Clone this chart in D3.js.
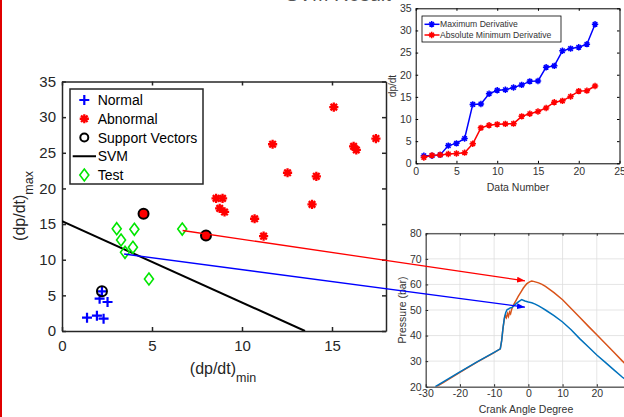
<!DOCTYPE html>
<html>
<head>
<meta charset="utf-8">
<script src="https://cdn.jsdelivr.net/npm/d3@7"></script>
<style>
  body { margin: 0; background: #fff; }
  svg { display: block; font-family: "Liberation Sans", Arial, sans-serif; }
</style>
</head>
<body>
<svg id="fig" width="624" height="417"></svg>
<script>
// ---- main scatter: (dp/dt)min vs (dp/dt)max ----
const normalMin = [1.39, 1.94, 2.31, 2.09, 2.53, 2.22];
const normalMax = [1.87, 2.15, 1.73, 4.53, 4.07, 5.57];
const abnormalMin = [4.53, 8.0, 8.56, 8.92, 8.76, 9.03, 10.7, 11.2, 11.7, 12.53, 14.13, 13.89, 15.1, 16.2, 16.35, 17.44];
const abnormalMax = [16.45, 13.4, 18.6, 18.6, 17.2, 16.7, 15.75, 13.3, 26.2, 22.2, 21.7, 17.77, 31.4, 25.9, 25.4, 27.0];
const supportMin = [2.22, 4.53, 8.0];
const supportMax = [5.57, 16.45, 13.4];
const supportClass = ["normal", "abnormal", "abnormal"];
const testMin = [3.04, 4.02, 3.28, 3.94, 3.5, 4.83, 6.68];
const testMax = [14.35, 14.26, 12.76, 11.74, 11.04, 7.29, 14.3];
const svmMin = [0, 13.5];
const svmMax = [15.4, 0];
const mainXTicks = [0, 5, 10, 15];
const mainYTicks = [0, 5, 10, 15, 20, 25, 30, 35];
const legendLabels = ["Normal", "Abnormal", "Support Vectors", "SVM", "Test"];

// ---- inset: derivative per data number ----
const dataNumber = [1, 2, 3, 4, 5, 6, 7, 8, 9, 10, 11, 12, 13, 14, 15, 16, 17, 18, 19, 20, 21, 22];
const maxDeriv = [1.7, 1.7, 1.9, 4.0, 4.5, 5.6, 13.3, 13.4, 15.7, 16.5, 16.6, 17.1, 17.7, 18.5, 18.6, 21.7, 22.0, 25.4, 25.9, 26.2, 26.9, 31.4];
const minDeriv = [1.3, 1.8, 1.9, 2.1, 2.2, 2.4, 4.4, 8.0, 8.6, 8.8, 8.9, 8.95, 10.6, 11.2, 11.7, 12.5, 13.8, 14.1, 15.1, 16.3, 16.4, 17.45];
const insetXTicks = [0, 5, 10, 15, 20, 25];
const insetYTicks = [0, 5, 10, 15, 20, 25, 30, 35];
const insetLegend = ["Maximum Derivative", "Absolute Minimum Derivative"];

// ---- pressure traces ----
const angNormal = [-27.2, -25, -20, -15, -10, -8.2, -7.8, -7.4, -7, -6.6, -6.2, -5.8, -5.3, -4.8, -4.3, -3.8, -3.3, -2.8, -2.3, -1.9, -1.5, -1, -0.5, 0, 1, 2, 3, 4, 5, 7.5, 10, 12.5, 15, 17.5, 20, 22.5, 25, 27.5, 30];
const presNormal = [20, 21.8, 25.8, 29.7, 33.4, 34.8, 38, 43, 47, 49, 50.2, 50.4, 50.8, 51, 51.6, 52.2, 52.8, 53.3, 53.8, 54.1, 53.8, 53.5, 53.3, 53.1, 52.8, 52.3, 51.6, 50.8, 50.0, 47.8, 45.3, 42.3, 38.8, 35.6, 32.4, 29.5, 26.6, 23.7, 21.2];
const angAbnormal = [-26.9, -25, -20, -15, -10, -8.2, -7.8, -7.4, -7, -6.7, -6.4, -6.1, -5.8, -5.5, -5.2, -4.9, -4.5, -4, -3.5, -3, -2.5, -2, -1.5, -1, -0.5, 0, 0.5, 1, 1.5, 2, 3, 4, 5, 7.5, 10, 12.5, 15, 17.5, 20, 22.5, 25, 27.5, 30];
const presAbnormal = [20, 21.5, 25.6, 29.6, 33.3, 34.8, 38, 43, 46.5, 47.8, 47, 48.6, 47.5, 49.2, 48.5, 50.2, 51.5, 52.8, 54, 55.2, 56.3, 57.4, 58.5, 59.4, 60.2, 60.7, 61.1, 61.3, 61.2, 61, 60.6, 60, 59.2, 56.8, 54, 50.6, 47.2, 43.7, 40.3, 36.9, 33.5, 30.0, 26.7];
const crankTicks = [-30, -20, -10, 0, 10, 20, 30];
const pressureTicks = [20, 30, 40, 50, 60, 70, 80];

// arrows: start in scatter coords, end in pressure coords
const arrowFrom = [[6.7, 14.1], [3.45, 10.8]];
const arrowTo = [[-1, 61.4], [-1, 51.1]];
const arrowColor = ["#ff0000", "#0000ff"];

const svg = d3.select("#fig");

// asterisk marker (plus + cross)
function asterisk(r) {
  const a = r * 0.707;
  return `M0,${-r}L0,${r}M${-r},0L${r},0M${-a},${-a}L${a},${a}M${-a},${a}L${a},${-a}`;
}
function plusMark(r) {
  return `M0,${-r}L0,${r}M${-r},0L${r},0`;
}
function diamond(r) {
  return `M0,${-r}L${r * 0.75},0L0,${r}L${-r * 0.75},0Z`;
}

// box with inward ticks on all four sides
function boxAxes(g, x, y, xt, yt, o) {
  const [x0, x1] = x.range();
  const [y0, y1] = y.range();
  const fmt = d => String(d);   // plain hyphen minus, like the original
  const bottom = g.append("g").attr("transform", `translate(0,${y0})`)
    .call(d3.axisBottom(x).tickValues(xt).tickFormat(fmt).tickSizeInner(-o.len).tickSizeOuter(0).tickPadding(o.xpad));
  const top = g.append("g").attr("transform", `translate(0,${y1})`)
    .call(d3.axisTop(x).tickValues(xt).tickSizeInner(-o.len).tickSizeOuter(0).tickFormat(""));
  const left = g.append("g").attr("transform", `translate(${x0},0)`)
    .call(d3.axisLeft(y).tickValues(yt).tickFormat(fmt).tickSizeInner(-o.len).tickSizeOuter(0).tickPadding(o.ypad));
  const right = g.append("g").attr("transform", `translate(${x1},0)`)
    .call(d3.axisRight(y).tickValues(yt).tickSizeInner(-o.len).tickSizeOuter(0).tickFormat(""));
  [bottom, top, left, right].forEach(a => {
    a.selectAll("path, line").attr("stroke", o.color).attr("stroke-width", o.width);
    a.selectAll("text").attr("fill", o.text).style("font-size", o.font + "px")
      .style("font-family", "'Liberation Sans', Arial, sans-serif");
  });
}

// red frame edge on the left
svg.append("line")
  .attr("x1", 1).attr("x2", 1).attr("y1", 0).attr("y2", 417)
  .attr("stroke", "#e00000").attr("stroke-width", 2);

// cut-off title at the top (only its lowest pixels show)
svg.append("text")
  .attr("x", 338).attr("y", 0.8)
  .attr("text-anchor", "middle")
  .style("font-size", "20px")
  .attr("fill", "#555")
  .text("SVM Result");

// ================= main scatter =================
const xMain = d3.scaleLinear().domain([0, 18]).range([62, 386]);
const yMain = d3.scaleLinear().domain([0, 35]).range([331, 81.5]);
const gMain = svg.append("g");

svg.append("clipPath").attr("id", "clipMain")
  .append("rect")
    .attr("x", xMain(0)).attr("y", yMain(35))
    .attr("width", xMain(18) - xMain(0)).attr("height", yMain(0) - yMain(35));

boxAxes(gMain, xMain, yMain, mainXTicks, mainYTicks,
  {len: 4, xpad: 9, ypad: 6, color: "#262626", width: 1.5, text: "#262626", font: 15});

// svm line
gMain.append("line")
  .attr("clip-path", "url(#clipMain)")
  .attr("x1", xMain(svmMin[0])).attr("y1", yMain(svmMax[0]))
  .attr("x2", xMain(svmMin[1])).attr("y2", yMain(svmMax[1]))
  .attr("stroke", "#000").attr("stroke-width", 2);

// normal
gMain.append("g")
    .attr("stroke", "#0000ff").attr("stroke-width", 2.2).attr("fill", "none")
  .selectAll("path")
  .data(normalMin)
  .join("path")
    .attr("transform", (d, i) => `translate(${xMain(d)},${yMain(normalMax[i])})`)
    .attr("d", plusMark(5));

// abnormal
gMain.append("g")
    .attr("stroke", "#ff0000").attr("stroke-width", 2.3).attr("fill", "none")
  .selectAll("path")
  .data(abnormalMin)
  .join("path")
    .attr("transform", (d, i) => `translate(${xMain(d)},${yMain(abnormalMax[i])})`)
    .attr("d", asterisk(4.6));

// support vectors
gMain.append("g")
    .attr("stroke", "#000").attr("stroke-width", 2)
  .selectAll("circle")
  .data(supportMin)
  .join("circle")
    .attr("cx", d => xMain(d))
    .attr("cy", (d, i) => yMain(supportMax[i]))
    .attr("fill", (d, i) => supportClass[i] === "abnormal" ? "#ff0000" : "none")
    .attr("r", 5);

// test
gMain.append("g")
    .attr("stroke", "#00e600").attr("stroke-width", 1.6).attr("fill", "none")
  .selectAll("path")
  .data(testMin)
  .join("path")
    .attr("transform", (d, i) => `translate(${xMain(d)},${yMain(testMax[i])})`)
    .attr("d", diamond(6));

// legend
const leg = gMain.append("g");
leg.append("rect")
  .attr("x", 70).attr("y", 89).attr("width", 133).attr("height", 95)
  .attr("fill", "#fff").attr("stroke", "#262626").attr("stroke-width", 1.5);
legendLabels.forEach((name, i) => {
  const cy = 100 + i * 18.75;
  const row = leg.append("g").attr("transform", `translate(84.3,${cy})`);
  if (i === 0) row.append("path").attr("d", plusMark(5)).attr("stroke", "#0000ff").attr("stroke-width", 2.2);
  if (i === 1) row.append("path").attr("d", asterisk(4.6)).attr("stroke", "#ff0000").attr("stroke-width", 2.3);
  if (i === 2) row.append("circle").attr("r", 4).attr("fill", "none").attr("stroke", "#000").attr("stroke-width", 2);
  if (i === 3) row.append("line").attr("x1", -11.6).attr("x2", 11.7).attr("stroke", "#000").attr("stroke-width", 2);
  if (i === 4) row.append("path").attr("d", diamond(6)).attr("fill", "none").attr("stroke", "#00e600").attr("stroke-width", 1.6);
  leg.append("text")
    .attr("x", 97.7).attr("y", cy).attr("dy", "0.36em")
    .style("font-size", "14px").attr("fill", "#000")
    .text(name);
});

// axis labels
const xl = gMain.append("text")
  .attr("x", 223).attr("y", 374)
  .attr("text-anchor", "middle")
  .attr("fill", "#262626")
  .style("font-size", "16px");
xl.append("tspan").text("(dp/dt)");
xl.append("tspan").attr("dy", 8).style("font-size", "12.5px").text("min");

const yl = gMain.append("text")
  .attr("transform", "translate(25,206) rotate(-90)")
  .attr("text-anchor", "middle")
  .attr("fill", "#262626")
  .style("font-size", "16px");
yl.append("tspan").text("(dp/dt)");
yl.append("tspan").attr("dy", 8).style("font-size", "12.5px").text("max");

// ================= inset: derivatives =================
const xIn = d3.scaleLinear().domain([0, 25]).range([415.7, 619.5]);
const yIn = d3.scaleLinear().domain([0, 35]).range([163.3, 8.3]);
const gIn = svg.append("g");

boxAxes(gIn, xIn, yIn, insetXTicks, insetYTicks,
  {len: 2.5, xpad: 4, ypad: 4, color: "#000", width: 1, text: "#333", font: 10.5});

const lineIn = d3.line();
const seriesIn = [[maxDeriv, "#0000ff"], [minDeriv, "#ff0000"]];
seriesIn.forEach(([vals, col]) => {
  gIn.append("path")
    .attr("d", lineIn(dataNumber.map((d, i) => [xIn(d), yIn(vals[i])])))
    .attr("fill", "none").attr("stroke", col).attr("stroke-width", 1.5);
  gIn.append("g")
      .attr("stroke", col).attr("stroke-width", 1.5)
    .selectAll("path")
    .data(dataNumber)
    .join("path")
      .attr("transform", (d, i) => `translate(${xIn(d)},${yIn(vals[i])})`)
      .attr("d", asterisk(3.2));
});

const legIn = gIn.append("g");
legIn.append("rect")
  .attr("x", 422).attr("y", 16).attr("width", 139).attr("height", 26)
  .attr("fill", "#fff").attr("stroke", "#000").attr("stroke-width", 0.8);
insetLegend.forEach((name, i) => {
  const cy = 24.3 + i * 10.7;
  const col = seriesIn[i][1];
  legIn.append("line")
    .attr("x1", 424.5).attr("x2", 439.5).attr("y1", cy).attr("y2", cy)
    .attr("stroke", col).attr("stroke-width", 1.5);
  legIn.append("path")
    .attr("transform", `translate(431.7,${cy})`)
    .attr("d", asterisk(3.2)).attr("stroke", col).attr("stroke-width", 1.5);
  legIn.append("text")
    .attr("x", 440).attr("y", cy).attr("dy", "0.35em")
    .style("font-size", "8.6px").attr("fill", "#333")
    .text(name);
});

gIn.append("text")
  .attr("x", 518).attr("y", 191)
  .attr("text-anchor", "middle")
  .style("font-size", "10.5px").attr("fill", "#333")
  .text("Data Number");
gIn.append("text")
  .attr("transform", "translate(396,86) rotate(-90)")
  .attr("text-anchor", "middle")
  .style("font-size", "10px").attr("fill", "#333")
  .text("dp/dt");

// ================= pressure traces =================
const xP = d3.scaleLinear().domain([-30, 30]).range([425.7, 631]);
const yP = d3.scaleLinear().domain([20, 80]).range([386.7, 233.3]);
const gP = svg.append("g");

svg.append("clipPath").attr("id", "clipP")
  .append("rect")
    .attr("x", xP(-30)).attr("y", yP(80))
    .attr("width", xP(30) - xP(-30)).attr("height", yP(20) - yP(80));

// grid
gP.append("g")
    .attr("stroke", "#dedede").attr("stroke-width", 0.8)
  .selectAll("line")
  .data(crankTicks)
  .join("line")
    .attr("x1", d => xP(d)).attr("x2", d => xP(d))
    .attr("y1", yP(20)).attr("y2", yP(80));
gP.append("g")
    .attr("stroke", "#dedede").attr("stroke-width", 0.8)
  .selectAll("line")
  .data(pressureTicks)
  .join("line")
    .attr("x1", xP(-30)).attr("x2", xP(30))
    .attr("y1", d => yP(d)).attr("y2", d => yP(d));

boxAxes(gP, xP, yP, crankTicks, pressureTicks,
  {len: 2.5, xpad: 3, ypad: 4, color: "#262626", width: 1, text: "#333", font: 10.5});

const lineP = d3.line();
gP.append("path")
  .attr("clip-path", "url(#clipP)")
  .attr("d", lineP(angAbnormal.map((d, i) => [xP(d), yP(presAbnormal[i])])))
  .attr("fill", "none").attr("stroke", "#d95319").attr("stroke-width", 1.5);
gP.append("path")
  .attr("clip-path", "url(#clipP)")
  .attr("d", lineP(angNormal.map((d, i) => [xP(d), yP(presNormal[i])])))
  .attr("fill", "none").attr("stroke", "#0072bd").attr("stroke-width", 1.5);

gP.append("text")
  .attr("x", 526).attr("y", 413)
  .attr("text-anchor", "middle")
  .style("font-size", "10.5px").attr("fill", "#333")
  .text("Crank Angle Degree");
gP.append("text")
  .attr("transform", "translate(406,310) rotate(-90)")
  .attr("text-anchor", "middle")
  .style("font-size", "10.5px").attr("fill", "#333")
  .text("Pressure (bar)");

// ================= arrows linking the two plots =================
const defs = svg.append("defs");
arrowColor.forEach((col, i) => {
  defs.append("marker")
      .attr("id", "arrow" + i)
      .attr("markerUnits", "userSpaceOnUse")
      .attr("viewBox", "0 0 8 6")
      .attr("refX", 8).attr("refY", 3)
      .attr("markerWidth", 8).attr("markerHeight", 6)
      .attr("orient", "auto")
    .append("path")
      .attr("d", "M0,0L8,3L0,6Z")
      .attr("fill", col);
});
arrowFrom.forEach((p, i) => {
  svg.append("line")
    .attr("x1", xMain(p[0])).attr("y1", yMain(p[1]))
    .attr("x2", xP(arrowTo[i][0])).attr("y2", yP(arrowTo[i][1]))
    .attr("stroke", arrowColor[i]).attr("stroke-width", 1.3)
    .attr("marker-end", `url(#arrow${i})`);
});
</script>
</body>
</html>
